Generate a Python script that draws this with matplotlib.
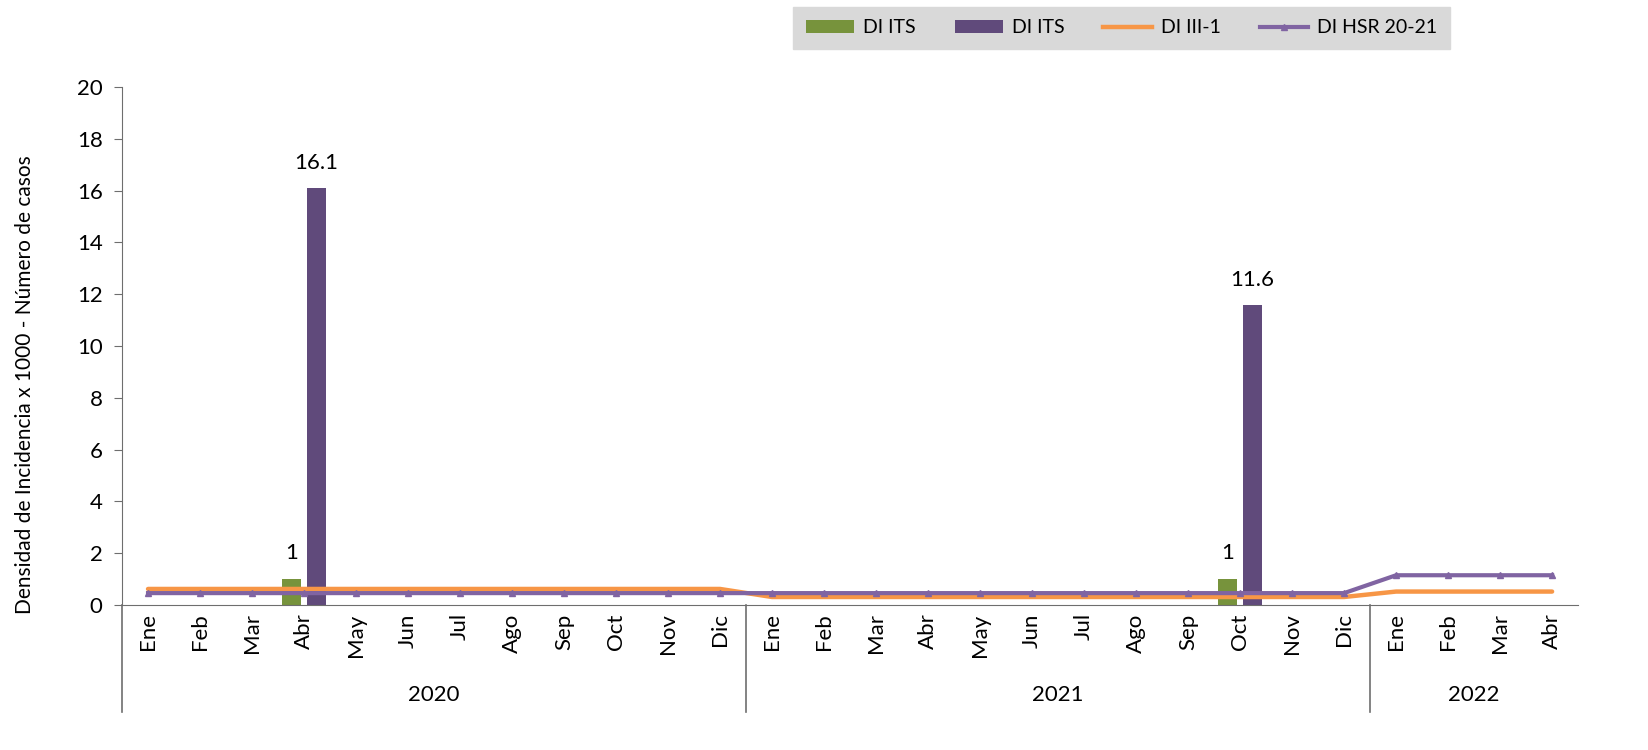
import matplotlib
matplotlib.use("Agg")
import matplotlib.pyplot as plt
import matplotlib.transforms as mtransforms
from matplotlib.patches import Patch
from matplotlib.lines import Line2D
import numpy as np

plt.rcParams["font.family"] = ["Lato", "DejaVu Sans"]

months = ["Ene", "Feb", "Mar", "Abr", "May", "Jun", "Jul", "Ago", "Sep", "Oct", "Nov", "Dic",
          "Ene", "Feb", "Mar", "Abr", "May", "Jun", "Jul", "Ago", "Sep", "Oct", "Nov", "Dic",
          "Ene", "Feb", "Mar", "Abr"]
years = ["2020", "2021", "2022"]
year_counts = [12, 12, 4]

# bar series (only the months that have a value)
its_cases_idx = [3, 21]
its_cases = [1, 1]
its_di_idx = [3, 21]
its_di = [16.1, 11.6]

di_iii1 = [0.62] * 12 + [0.31] * 12 + [0.52] * 4
di_hsr = [0.46] * 12 + [0.46] * 12 + [1.15] * 4

c_green = "#77933C"
c_dpurple = "#604A7B"
c_orange = "#F79646"
c_purple = "#8064A2"
c_axis = "#6E6E6E"

fig = plt.figure(figsize=(16.49, 7.5), dpi=100)
ax = fig.add_axes([0.074, 0.1933, 0.883, 0.6907])

x = np.arange(len(months))
bw = 0.36
off = 0.235
ax.bar(np.array(its_cases_idx) - off, its_cases, width=bw, color=c_green, zorder=2)
ax.bar(np.array(its_di_idx) + off, its_di, width=bw, color=c_dpurple, zorder=2)
ax.plot(x, di_iii1, color=c_orange, lw=3.2, zorder=3, solid_capstyle="round")
ax.plot(x, di_hsr, color=c_purple, lw=3.0, marker="^", ms=5, zorder=4)

for i, v in zip(its_cases_idx, its_cases):
    ax.text(i - off, v + 1.0, f"{v:g}", ha="center", va="center", fontsize=16)
for i, v in zip(its_di_idx, its_di):
    ax.text(i + off, v + 0.95, f"{v:g}", ha="center", va="center", fontsize=16)

ax.set_xlim(-0.5, len(months) - 0.5)
ax.set_ylim(0, 20)
ax.set_yticks(np.arange(0, 21, 2))
ax.tick_params(axis="y", labelsize=16, length=6, color=c_axis, pad=8)
ax.set_xticks(x)
ax.set_xticklabels(months, rotation=90, fontsize=16)
ax.tick_params(axis="x", length=0, pad=6)

for s in ["top", "right"]:
    ax.spines[s].set_visible(False)
ax.spines["left"].set_color(c_axis)
ax.spines["bottom"].set_color(c_axis)

ax.set_ylabel("Densidad de Incidencia x 1000 - Número de casos", fontsize=15)
ax.yaxis.set_label_coords(-0.06, 0.425)

# multi-level year axis
trans = mtransforms.blended_transform_factory(ax.transData, ax.transAxes)
bounds = [-0.5]
for n in year_counts:
    bounds.append(bounds[-1] + n)
for b in bounds[:-1]:
    ax.plot([b, b], [0, -0.207], transform=trans, color=c_axis, lw=1.2, clip_on=False)
for yr, a, b in zip(years, bounds[:-1], bounds[1:]):
    ax.text((a + b) / 2, -0.174, yr, transform=trans, ha="center", va="center", fontsize=16)

handles = [
    Patch(facecolor=c_green, label="DI ITS"),
    Patch(facecolor=c_dpurple, label="DI ITS"),
    Line2D([], [], color=c_orange, lw=3.2, label="DI III-1"),
    Line2D([], [], color=c_purple, lw=3.0, marker="^", ms=5, label="DI HSR 20-21"),
]
leg = fig.legend(handles=handles, loc="center", bbox_to_anchor=(0.68, 0.963), ncol=4,
                 fontsize=14, frameon=True, fancybox=False, handlelength=2.5,
                 handleheight=0.65, handletextpad=0.45, columnspacing=2.0,
                 borderpad=0.65, borderaxespad=0)
leg.get_frame().set_facecolor("#D9D9D9")
leg.get_frame().set_edgecolor("#D9D9D9")
leg.get_frame().set_alpha(1)

fig.savefig("out.png", dpi=100)
